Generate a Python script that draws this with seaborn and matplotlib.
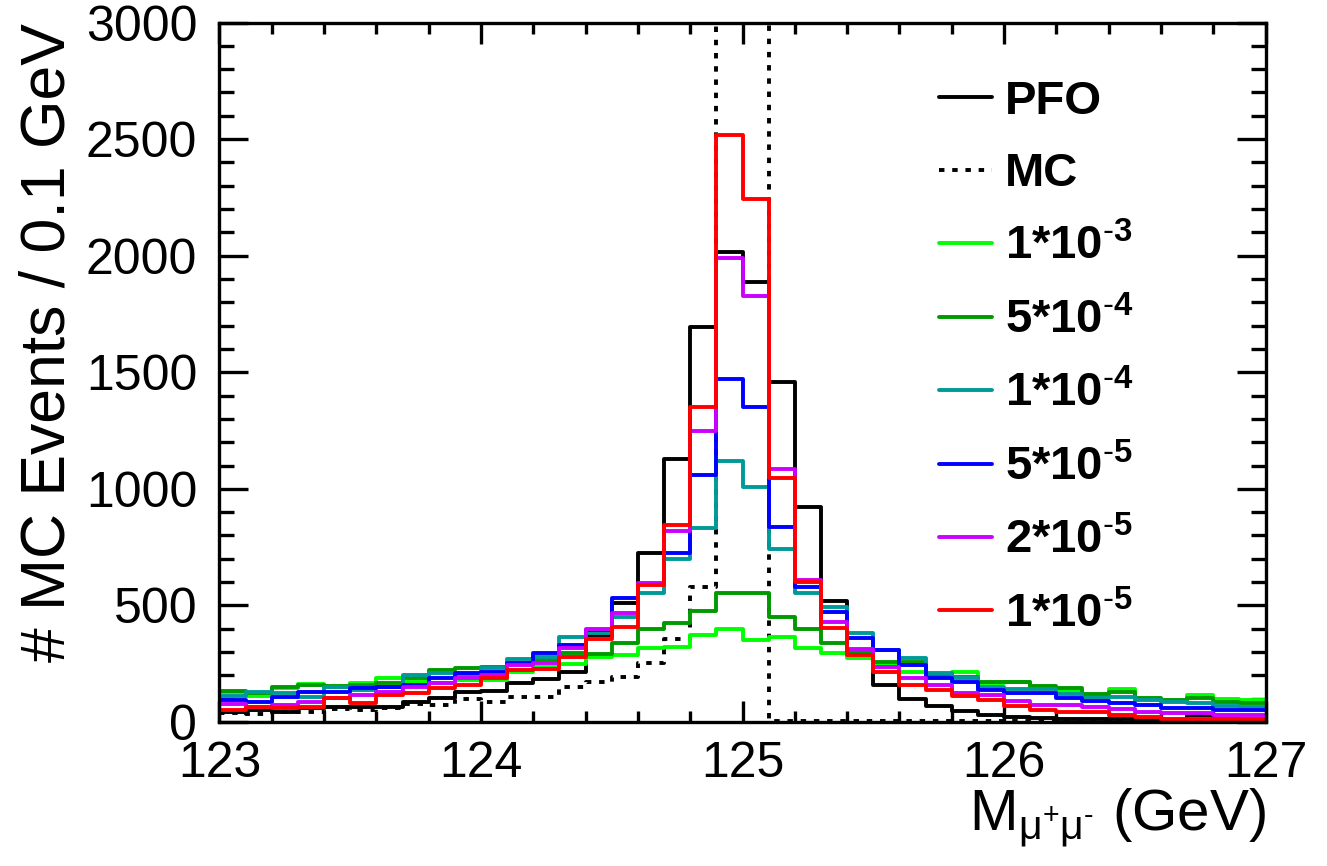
import numpy as np
import pandas as pd
import matplotlib
matplotlib.use("Agg")
import matplotlib.pyplot as plt
import seaborn as sns

# 0.1 GeV bins between 123 and 127 GeV
bin_edges = [round(123.0 + 0.1 * i, 2) for i in range(41)]
bin_centers = [round(e + 0.05, 3) for e in bin_edges[:-1]]

pfo = [44, 51, 44, 59, 66, 66, 66, 87, 101, 130,
       134, 166, 183, 213, 373, 509, 723, 1126, 1693, 2014,
       1885, 1460, 920, 520, 290, 157, 98, 70, 46, 30,
       22, 16, 14, 13, 11, 9, 8, 28, 12, 8]
mc = [40, 34, 44, 44, 54, 51, 59, 77, 73, 97,
      87, 106, 106, 151, 173, 194, 252, 357, 580, 9000,
      9000, 6, 6, 6, 5, 5, 5, 5, 5, 5,
      5, 5, 0, 0, 0, 0, 0, 0, 0, 0]
res_1e3 = [129, 112, 144, 163, 152, 166, 187, 173, 169, 180,
           180, 215, 235, 249, 280, 287, 316, 323, 373, 397,
           352, 363, 316, 298, 276, 244, 216, 202, 216, 169,
           170, 150, 132, 115, 140, 98, 92, 116, 97, 94]
res_5e4 = [134, 126, 152, 159, 154, 159, 169, 187, 223, 230,
           237, 252, 266, 297, 291, 337, 397, 426, 477, 552,
           552, 449, 397, 340, 300, 259, 259, 200, 195, 173,
           170, 156, 146, 120, 130, 101, 94, 101, 87, 83]
res_1e4 = [111, 130, 123, 109, 152, 137, 152, 201, 209, 201,
           230, 269, 280, 363, 380, 452, 555, 697, 830, 1119,
           1006, 740, 555, 495, 381, 310, 273, 209, 187, 152,
           140, 142, 120, 101, 109, 94, 87, 80, 69, 66]
res_5e5 = [94, 87, 109, 130, 130, 144, 152, 159, 187, 209,
           216, 252, 294, 330, 394, 532, 590, 723, 1059, 1470,
           1352, 835, 580, 470, 360, 309, 244, 187, 173, 137,
           123, 123, 105, 91, 80, 73, 59, 59, 51, 51]
res_2e5 = [77, 66, 73, 87, 101, 116, 130, 152, 166, 187,
           201, 244, 254, 316, 397, 466, 597, 820, 1249, 1988,
           1827, 1083, 609, 428, 312, 237, 187, 159, 123, 116,
           90, 73, 72, 66, 54, 44, 37, 37, 30, 30]
res_1e5 = [51, 66, 59, 66, 101, 80, 116, 123, 144, 159,
           187, 223, 226, 280, 356, 406, 587, 845, 1352, 2517,
           2241, 1045, 602, 402, 289, 216, 159, 137, 111, 94,
           70, 51, 44, 44, 30, 20, 11, 11, 11, 11]

labels = ["PFO", "MC", r"1*10$^{\text{-}3}$", r"5*10$^{\text{-}4}$",
          r"1*10$^{\text{-}4}$", r"5*10$^{\text{-}5}$",
          r"2*10$^{\text{-}5}$", r"1*10$^{\text{-}5}$"]
colors = ["black", "black", "#00ff00", "#009900", "#009999",
          "#0000ff", "#cc00ff", "#ff0000"]
series = [pfo, mc, res_1e3, res_5e4, res_1e4, res_5e5, res_2e5, res_1e5]

sns.set_style("ticks")
plt.rcParams["font.family"] = ["Liberation Sans", "DejaVu Sans"]
plt.rcParams["mathtext.fontset"] = "custom"
plt.rcParams["mathtext.rm"] = "Liberation Sans"
plt.rcParams["mathtext.default"] = "regular"
for key in ["text.color", "axes.labelcolor", "axes.edgecolor",
            "xtick.color", "ytick.color"]:
    plt.rcParams[key] = "black"

fig = plt.figure(figsize=(13.27, 8.66), dpi=100)
ax = fig.add_axes([0.1654, 0.1663, 0.7883, 0.8077])

for vals, lab, col in zip(series, labels, colors):
    df = pd.DataFrame({"mass": bin_centers, "events": vals})
    ls = (0, (1.4, 2.0)) if lab == "MC" else "-"
    sns.histplot(data=df, x="mass", weights="events", bins=bin_edges,
                 element="step", fill=False, color=col, linewidth=2.8,
                 linestyle=ls, label=lab, ax=ax)

ax.set_xlim(123, 127)
ax.set_ylim(0, 3000)
ax.set_xticks(np.arange(123, 128, 1))
ax.set_xticks(np.arange(123, 127.01, 0.2), minor=True)
ax.set_yticks(np.arange(0, 3001, 500))
ax.set_yticks(np.arange(0, 3001, 100), minor=True)

ax.tick_params(which="both", direction="in", top=True, right=True, width=2.4)
ax.tick_params(axis="x", which="major", length=15, labelsize=36, pad=14)
ax.tick_params(axis="x", which="minor", length=8)
ax.tick_params(axis="y", which="major", length=21, labelsize=36, pad=16)
ax.tick_params(axis="y", which="minor", length=11)
for s in ax.spines.values():
    s.set_linewidth(2.4)

ax.set_ylabel("# MC Events / 0.1 GeV", fontsize=45, loc="top")
ax.yaxis.set_label_coords(-0.1353, 1.0)
ax.set_xlabel(r"M$_{\mu^{+}\mu^{\text{-}}}$ (GeV)", fontsize=42, loc="right")
ax.xaxis.set_label_coords(1.0, -0.093)

ax.legend(loc="upper left", bbox_to_anchor=(939 / 1327, 1 - 80 / 866),
          bbox_transform=fig.transFigure, frameon=False,
          prop={"size": 34, "weight": "bold"}, handlelength=1.13,
          handletextpad=0.27, labelspacing=0.6, borderpad=0, borderaxespad=0)

fig.savefig("out.png", dpi=100)
